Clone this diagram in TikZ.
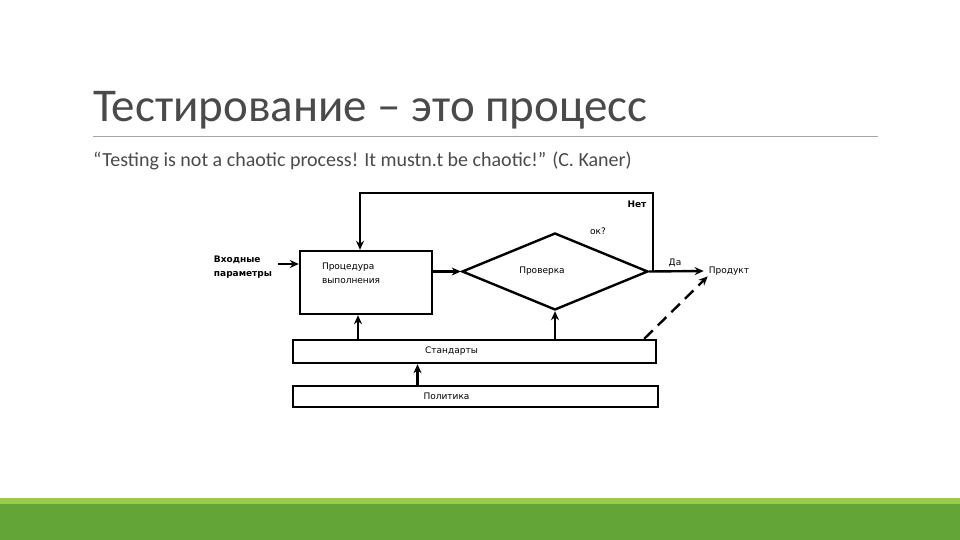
\documentclass[tikz,border=0pt]{standalone}
\usepackage{fontspec}
\setmainfont{Carlito}
\newfontfamily\diagfont{DejaVu Sans}
\usepackage{tikz}
\usetikzlibrary{arrows.meta,positioning,shapes.geometric}
\definecolor{titlegray}{HTML}{4A4A4A}
\definecolor{rulegray}{HTML}{A6A6A6}
\definecolor{bargreen}{HTML}{63A537}
\definecolor{barlight}{HTML}{9BCB4C}

\begin{document}
\begin{tikzpicture}[
  x=1pt,y=-1pt,
  box/.style={draw,line width=2.4pt,inner sep=0pt},
  arr/.style={-{Stealth[length=9pt,width=8pt]},line width=2.4pt},
  note/.style={font=\diagfont\fontsize{9}{14}\selectfont,inner sep=1pt,align=left}
]
\useasboundingbox (0,0) rectangle (960,540);
% slide frame
\fill[barlight] (0,498) rectangle (960,504);
\fill[bargreen] (0,504) rectangle (960,540);
\node[anchor=base west,inner sep=0pt,text=titlegray,font=\fontsize{47}{50}\selectfont]
  (title) at (93,122) {Тестирование – это процесс};
\draw[rulegray,line width=0.8pt] (93,136) -- (878,136);
\node[anchor=base west,inner sep=0pt,text=titlegray,font=\fontsize{20}{22}\selectfont]
  (quote) at (93,167) {“Testing is not a chaotic process! It mustn.t be chaotic!” (C. Kaner)};

% diagram
\node[box,minimum width=132pt,minimum height=63pt,
  label={[note,anchor=north west,xshift=22pt,yshift=-12pt]north west:Процедура\\выполнения}]
  (proc) at (366,282.5) {};
\node[box,diamond,minimum width=186pt,minimum height=77pt,
  label={[note,xshift=-13pt]center:Проверка}] (chk) at (555,271.5) {};
\node[box,minimum width=363pt,minimum height=23pt,
  label={[note,xshift=-23pt]center:Стандарты}] (std) at (474.5,351.5) {};
\node[box,minimum width=365pt,minimum height=21pt,
  label={[note,xshift=-29pt]center:Политика}] (pol) at (475.5,396.5) {};

\node[note,font=\diagfont\bfseries\fontsize{9}{14}\selectfont] (inp) at (243,267) {Входные\\параметры};
\node[note] (prod) at (729,271) {Продукт};
\node[note,font=\diagfont\bfseries\fontsize{9}{11}\selectfont] (no) at (637,204) {Нет};
\node[note] (ok) at (598,231) {ок?};
\node[note] (yes) at (675,263) {Да};

\coordinate (fork) at (653,271.5);
\coordinate (loop) at (360,193);

\draw[arr] ([xshift=5pt,yshift=3pt]inp.east) -- ([yshift=3pt]inp.east -| proc.west);
\draw[arr] (proc.east |- chk.west) -- (chk.west);
\draw[arr] (chk.east) -- ([xshift=-4pt]prod.west);
\draw[arr] (fork) |- (loop) -- (loop |- proc.north);
\draw[arr] ([xshift=-8pt]proc.south |- std.north) -- ([xshift=-8pt]proc.south);
\draw[arr] (chk.south |- std.north) -- (chk.south);
\draw[arr] ([xshift=-58pt]pol.north) -- ([xshift=-58pt]pol.north |- std.south);
\draw[arr,dash pattern=on 12pt off 7pt] ([xshift=-13pt]std.north east) -- (prod.south west);
\end{tikzpicture}
\end{document}
